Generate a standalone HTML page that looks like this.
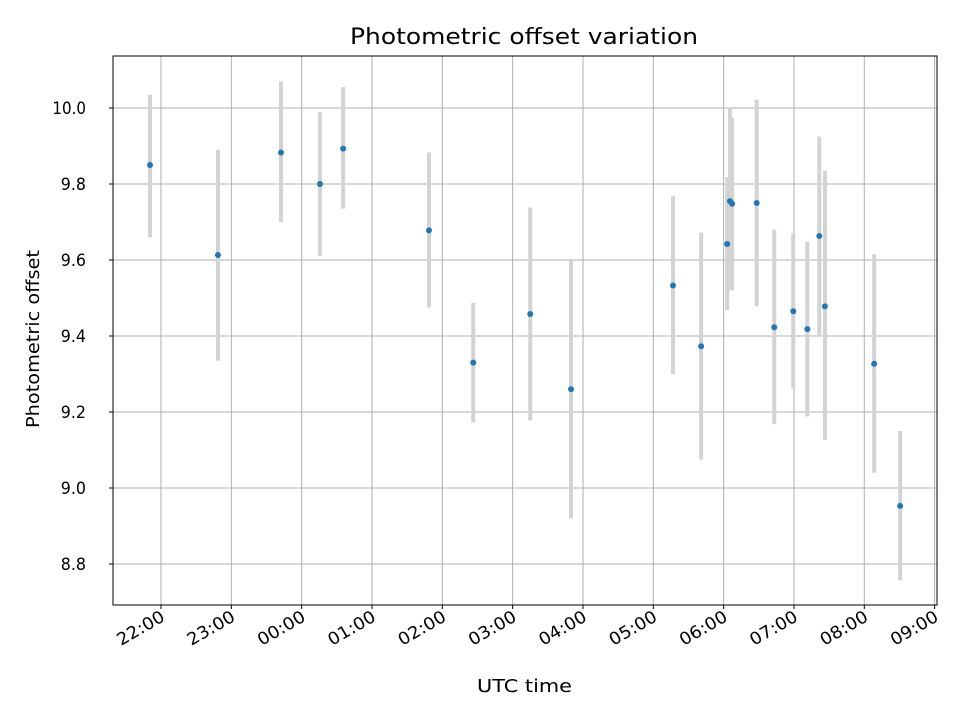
<!DOCTYPE html>
<html><head><meta charset="utf-8"><style>
body{margin:0;background:#fff;font-family:"Liberation Sans","DejaVu Sans",sans-serif}
</style></head><body>
<svg id="chart" width="960" height="720" xmlns="http://www.w3.org/2000/svg" font-family="DejaVu Sans, Liberation Sans, sans-serif">
<rect width="960" height="720" fill="#fff"/>
<g id="grid"></g><g id="bars"></g><g id="pts"></g><g id="ticks"></g>
<rect x="113" y="56" width="824" height="549" fill="none" stroke="#000" stroke-width="1"/>
<text x="350" y="44" font-size="22" textLength="348" lengthAdjust="spacingAndGlyphs">Photometric offset variation</text>
<text x="477" y="692" font-size="18" textLength="95" lengthAdjust="spacingAndGlyphs">UTC time</text>
<text transform="translate(39,428) rotate(-90)" font-size="18" textLength="178" lengthAdjust="spacingAndGlyphs">Photometric offset</text>
</svg>
<script>
// hours relative to 22:00
const times=[-0.156,0.81,1.706,2.26,2.59,3.81,4.44,5.25,5.83,7.28,7.68,8.05,8.09,8.12,8.47,8.72,8.99,9.19,9.36,9.44,10.14,10.51];
const values=[9.85,9.613,9.883,9.80,9.893,9.678,9.33,9.458,9.26,9.533,9.373,9.642,9.755,9.748,9.75,9.423,9.465,9.418,9.663,9.478,9.327,8.953];
const lows=[9.66,9.335,9.70,9.61,9.735,9.475,9.172,9.178,8.92,9.30,9.075,9.468,9.52,9.52,9.478,9.168,9.262,9.188,9.40,9.127,9.04,8.757];
const highs=[10.035,9.89,10.07,9.99,10.055,9.883,9.487,9.738,9.60,9.768,9.672,9.818,10.0,9.975,10.022,9.68,9.67,9.648,9.925,9.835,9.615,9.15];
const xTickLabels=["22:00","23:00","00:00","01:00","02:00","03:00","04:00","05:00","06:00","07:00","08:00","09:00"];
const yTicks=[8.8,9.0,9.2,9.4,9.6,9.8,10.0];
const NS="http://www.w3.org/2000/svg";
const X=h=>161+h*70.33, Y=v=>108+(10-v)*380;
function mk(p,t,a){const e=document.createElementNS(NS,t);for(const k in a)e.setAttribute(k,a[k]);document.getElementById(p).appendChild(e);return e;}
yTicks.forEach(v=>{
 const g=mk('grid','line',{x1:113,x2:937,y1:Y(v),y2:Y(v),stroke:'#b0b0b0','stroke-width':1});
 
 mk('ticks','line',{x1:109,x2:113,y1:Y(v),y2:Y(v),stroke:'#000'});
 const s=v.toFixed(1);
 const t=mk('ticks','text',{x:86,y:Y(v)+6,'text-anchor':'end','font-size':'17',textLength:s.length*8.4,lengthAdjust:'spacingAndGlyphs'});t.textContent=s;
 
});
xTickLabels.forEach((s,i)=>{
 const x=X(i);
 const g=mk('grid','line',{x1:x,x2:x,y1:56,y2:605,stroke:'#b0b0b0','stroke-width':1});
 
 mk('ticks','line',{x1:x,x2:x,y1:605,y2:609,stroke:'#000'});
 const t=mk('ticks','text',{transform:`translate(${x+5},${620}) rotate(-30)`,'text-anchor':'end','font-size':'17',textLength:52,lengthAdjust:'spacingAndGlyphs'});t.textContent=s;
 
});
times.forEach((h,i)=>{
 const b=mk('bars','line',{x1:X(h),x2:X(h),y1:Y(lows[i]),y2:Y(highs[i]),stroke:'#d3d3d3','stroke-width':4});
 
 const c=mk('pts','circle',{cx:X(h),cy:Y(values[i]),r:3,fill:'#1f77b4'});
 
});
</script>
</body></html>
